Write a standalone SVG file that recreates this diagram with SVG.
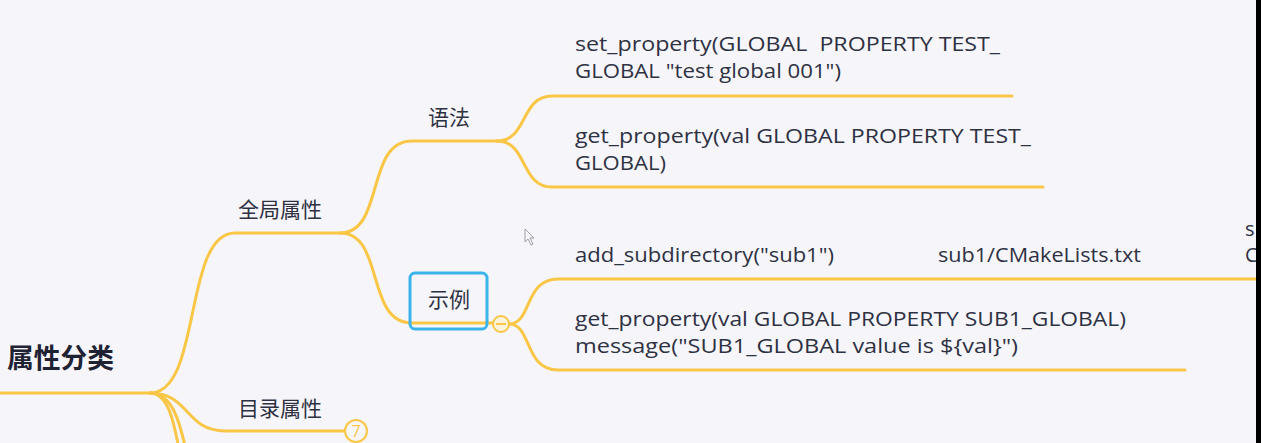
<svg xmlns="http://www.w3.org/2000/svg" width="1261" height="443" viewBox="0 0 1261 443">
  <style>
    .ln{fill:none;stroke:#f9c646;stroke-width:3;stroke-linecap:round}
    .code{font-family:"Open Sans","Liberation Sans",sans-serif;font-size:20px;fill:#2e3142}
    .cn{font-family:"Noto Sans CJK SC","Noto Sans",sans-serif;font-size:21px;fill:#2e3142}
  </style>
  <rect x="0" y="0" width="1261" height="443" fill="#f6f6fa"/>
  <g id="connectors">
    <path class="ln" d="M0,393 L150,393"/>
    <path class="ln" d="M150,393 C202,393 183,233 235,233 L340,233"/>
    <path class="ln" d="M150,393 C190,393 185,431 225,431 L345,431"/>
    <path class="ln" d="M150,393 C172,393 180,420 188,460"/>
    <path class="ln" d="M150,393 C168,393 174,420 181,460"/>
    <path class="ln" d="M340,233 C385,233 365,141 412,141 L497,141"/>
    <path class="ln" d="M340,233 C385,233 365,323 412,323 L493,323"/>
    <path class="ln" d="M497,141 C528,141 520,96 552,96 L1012,96"/>
    <path class="ln" d="M497,141 C528,141 520,187 552,187 L1043,187"/>
    <path class="ln" d="M509,324 C532,324 524,279 558,279 L1261,279"/>
    <path class="ln" d="M509,324 C532,324 524,370 558,370 L1185,370"/>
  </g>
  <g id="root">
    <text x="7" y="368" font-family="Noto Sans CJK SC,sans-serif" font-size="27" font-weight="bold" fill="#1f2233" textLength="107" lengthAdjust="spacingAndGlyphs">属性分类</text>
  </g>
  <g id="global">
    <text class="cn" x="238" y="217">全局属性</text>
  </g>
  <g id="syntax">
    <text class="cn" x="428" y="125">语法</text>
  </g>
  <g id="example">
    <rect x="410" y="273" width="77" height="56" rx="5" fill="none" stroke="#3bb3ec" stroke-width="3"/>
    <text class="cn" x="428" y="307">示例</text>
    <circle cx="501" cy="324" r="8" fill="#fbf3dc" stroke="#f9c646" stroke-width="2"/>
    <line x1="496" y1="324" x2="506" y2="324" stroke="#f9c646" stroke-width="2"/>
  </g>
  <g id="dir">
    <text class="cn" x="238" y="416">目录属性</text>
    <circle cx="356" cy="431" r="11" fill="#f6f6fa" stroke="#f9c646" stroke-width="2"/>
    <text x="356" y="437" text-anchor="middle" font-family="Open Sans,sans-serif" font-size="16" fill="#f9c646">7</text>
  </g>
  <g id="set-prop">
    <text class="code" x="575" y="51" textLength="425" lengthAdjust="spacingAndGlyphs" xml:space="preserve">set_property(GLOBAL  PROPERTY TEST_</text>
    <text class="code" x="575" y="78" textLength="266" lengthAdjust="spacingAndGlyphs">GLOBAL "test global 001")</text>
  </g>
  <g id="get-prop">
    <text class="code" x="575" y="143" textLength="456" lengthAdjust="spacingAndGlyphs">get_property(val GLOBAL PROPERTY TEST_</text>
    <text class="code" x="575" y="170" textLength="91" lengthAdjust="spacingAndGlyphs">GLOBAL)</text>
  </g>
  <g id="add-sub">
    <text class="code" x="575" y="262" textLength="259" lengthAdjust="spacingAndGlyphs">add_subdirectory("sub1")</text>
    <text class="code" x="938" y="262" textLength="203" lengthAdjust="spacingAndGlyphs">sub1/CMakeLists.txt</text>
    <text class="code" x="1245" y="236">s</text>
    <text class="code" x="1245" y="262">C</text>
  </g>
  <g id="sub-get">
    <text class="code" x="575" y="326" textLength="551" lengthAdjust="spacingAndGlyphs">get_property(val GLOBAL PROPERTY SUB1_GLOBAL)</text>
    <text class="code" x="575" y="353" textLength="443" lengthAdjust="spacingAndGlyphs">message("SUB1_GLOBAL value is ${val}")</text>
  </g>
  <path d="M525,229 L525,242 L528,239 L531,245 L533,244 L530,238 L534,238 Z" fill="#f6f6fa" stroke="#8a8a96" stroke-width="0.8"/>
  <rect x="1256" y="0" width="5" height="443" fill="#000"/>
</svg>
